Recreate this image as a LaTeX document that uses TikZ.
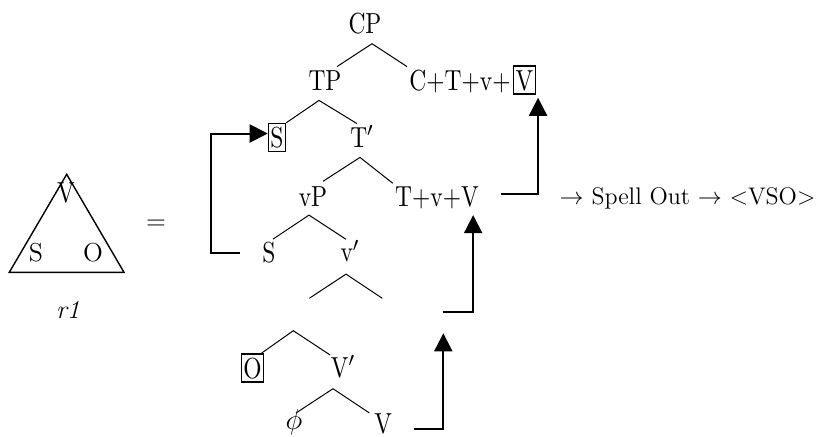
\documentclass[tikz,border=0pt]{standalone}
\usepackage{fontspec}
\newfontfamily\treefont{lmroman10-regular}[Extension=.otf,FakeStretch=0.81]
\usetikzlibrary{arrows.meta,positioning,calc}

\tikzset{
  treenode/.style={font=\treefont\fontsize{14.5pt}{17pt}\selectfont, inner xsep=1pt, inner ysep=1.5pt, text height=10pt, text depth=3.5pt},
  boxednode/.style={treenode, draw, line width=0.75pt, inner ysep=0pt, text depth=0pt, minimum height=14pt},
  plaintext/.style={font=\fontsize{13pt}{15pt}\selectfont, inner sep=1pt},
  branch/.style={line width=0.5pt},
  mover/.style={line width=1pt, -{Triangle[length=9pt,width=9pt]}}
}

\begin{document}
\begin{tikzpicture}[x=0.5pt,y=0.5pt,yscale=-1,xscale=1]
\useasboundingbox (0,0) rectangle (829,436);

%Shape: Triangle
\draw[line width=0.7pt] (66.7,174.3) -- (124,272.3) -- (9.3,272.3) -- cycle;
% Text Node
\node[treenode] (trv) at (66,195.5) {V};
\node[plaintext] (trs) at (36,253) {S};
\node[plaintext] (tro) at (93,253) {O};
\node[plaintext, font=\fontsize{13pt}{15pt}\selectfont\itshape] (rone) at (68,310) {r1};
\node[plaintext] (eq) at (156,225) {=};

% Tree Nodes
\node[treenode] (cp) at (365,26.8) {CP};
\node[treenode] (tp) at (325,83.5) {TP};
\node[treenode, anchor=west] (ctv) at (407,83.5) {C+T+v+};
\node[boxednode, base right=0pt of ctv] (vbox) {V};
\node[boxednode] (s) at (277,137.5) {S};
\node[treenode] (tbar) at (362,140.5) {T$'$};
\node[treenode] (vp) at (313,200.2) {vP};
\node[treenode] (tvv) at (437,200.2) {T+v+V};
\node[treenode] (slow) at (269,256) {S};
\node[treenode] (vbar) at (350,255.2) {v$'$};
\coordinate (vbarleft) at (309.3,298.3);
\coordinate (vbarright) at (382.3,298.3);
\coordinate (vptop) at (293.3,330.7);
\node[boxednode] (o) at (252.5,368) {O};
\node[treenode] (vbarp) at (343,370.8) {V$'$};
\node[treenode] (phi) at (294,422.9) {$\phi$};
\node[treenode] (vlow) at (383.3,426.8) {V};
\coordinate (movetip) at (443.3,333.3);
\coordinate (movestart) at (442.7,311.7);

% Text Node
\node[plaintext, font=\fontsize{12pt}{14pt}\selectfont] (spell) at (687.5,198) {$\rightarrow$ Spell Out $\rightarrow$ <VSO>};

%Branches
\draw[branch] ($(tp.north)+(12,0)$) -- ($(cp.south)+(7,0)$) -- (ctv.north west);
\draw[branch] (s.north east) -- ($(tp.south)+(-6,0)$) -- ($(tbar.north)+(-5,0)$);
\draw[branch] ($(vp.north)+(10,-2)$) -- ($(tbar.south)+(-2,0)$) -- (tvv.north west);
\draw[branch] ($(slow.north)+(4,0)$) -- ($(vp.south)+(-4,-2)$) -- ($(vbar.north)+(-4,1)$);
\draw[branch] (vbarleft) -- ($(vbar.south)+(-4,2)$) -- (vbarright);
\draw[branch] ($(o.north east)+(-3,0)$) -- (vptop) -- ($(vbarp.north)+(-13,1)$);
\draw[branch] ($(phi.north)+(2,7)$) -- ($(vbarp.south)+(-10,1)$) -- ($(vlow.north)+(-14,3)$);

%Movement Arrows
\draw[mover] ($(slow.west)+(-20.5,-3)$) -- ++(-29,0) |- ($(s.west)+(0,-4)$);
\draw[mover] ($(tvv.east)+(20,-6)$) -| ($(vbox.south east)+(2,3)$);
\draw[mover] ($(vlow.east)+(19,2)$) -| (movetip);
\draw[mover] (movestart) -| ($(tvv.south east)+(-8,-2)$);

\end{tikzpicture}
\end{document}
